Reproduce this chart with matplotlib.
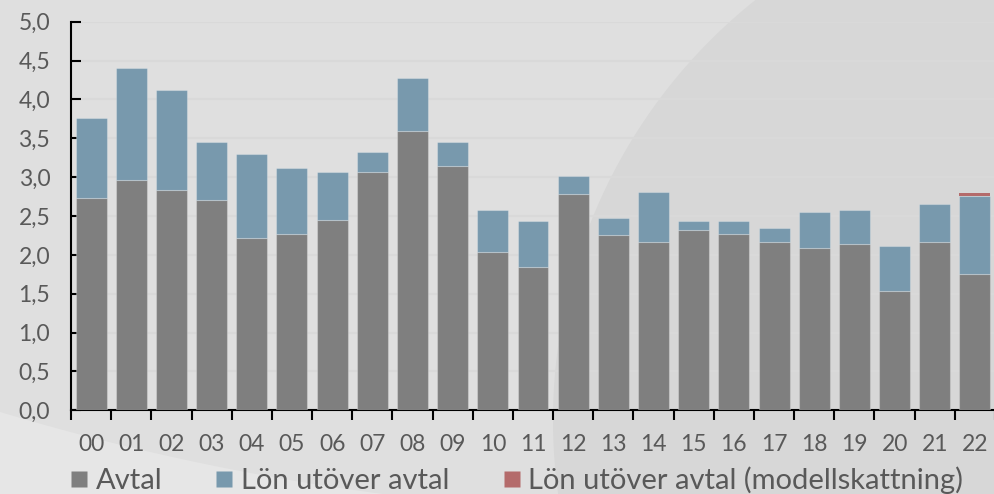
import numpy as np
import matplotlib
matplotlib.use("Agg")
import matplotlib.pyplot as plt
from matplotlib.patches import Polygon
from matplotlib.lines import Line2D
from matplotlib.ticker import FuncFormatter, FixedLocator

plt.rcParams['font.family'] = ['Lato', 'DejaVu Sans']

years = ["00", "01", "02", "03", "04", "05", "06", "07", "08", "09", "10", "11",
         "12", "13", "14", "15", "16", "17", "18", "19", "20", "21", "22"]
avtal = [2.73, 2.96, 2.83, 2.71, 2.22, 2.27, 2.45, 3.06, 3.60, 3.14, 2.04, 1.84,
         2.78, 2.25, 2.17, 2.32, 2.27, 2.17, 2.09, 2.14, 1.53, 2.17, 1.76]
utover = [1.03, 1.44, 1.29, 0.74, 1.08, 0.85, 0.61, 0.26, 0.67, 0.31, 0.54, 0.59,
          0.24, 0.23, 0.64, 0.11, 0.16, 0.18, 0.46, 0.44, 0.59, 0.49, 1.00]
modell = [0, 0, 0, 0, 0, 0, 0, 0, 0, 0, 0, 0,
          0, 0, 0, 0, 0, 0, 0, 0, 0, 0, 0.03]
legend_labels = ["Avtal", "Lön utöver avtal", "Lön utöver avtal (modellskattning)"]

C_AVTAL = '#7f7f7f'
C_UTOVER = '#7899ad'
C_MODELL = '#b46b6b'
TXT = '#595959'

W, H = 995, 494
fig = plt.figure(figsize=(W / 100, H / 100), dpi=100)
fig.patch.set_facecolor('#dfdfdf')

def px(pts):
    return [(x / W, 1 - y / H) for x, y in pts]

# darker region (right)
cx, cy, r = 1090.0, 420.0, 537.0
ys = np.linspace(0, H, 120)
arc = [(cx - np.sqrt(r**2 - (y - cy)**2), y) for y in ys]
dark = arc + [(W + 2, H), (W + 2, 0)]
fig.patches.append(Polygon(px(dark), closed=True, transform=fig.transFigure,
                           facecolor='#d7d7d7', edgecolor='none', zorder=-10))
# lighter region (bottom-left)
cx2, cy2, r2 = 692.0, -1883.0, 2397.0
xs = np.linspace(0, 390, 100)
arc2 = [(x, cy2 + np.sqrt(r2**2 - (x - cx2)**2)) for x in xs]
light = [(-2, arc2[0][1])] + arc2 + [(390, H + 2), (-2, H + 2)]
fig.patches.append(Polygon(px(light), closed=True, transform=fig.transFigure,
                           facecolor='#e6e6e6', edgecolor='none', zorder=-10))

ax = fig.add_axes([71 / W, 1 - 410.3 / H, 1 - 71 / W, (410.3 - 21.7) / H])
ax.set_facecolor('none')

x = np.arange(len(years))
bw = 0.77
edge = (1, 1, 1, 0.25)
ax.bar(x, avtal, bw, color=C_AVTAL, edgecolor=edge, linewidth=0.8, zorder=3)
ax.bar(x, utover, bw, bottom=avtal, color=C_UTOVER, edgecolor=edge, linewidth=0.8, zorder=3)
bottom2 = np.array(avtal) + np.array(utover)
ax.bar(x, modell, bw, bottom=bottom2, color=C_MODELL, edgecolor='none', zorder=3)

ax.set_xlim(-0.5, len(years) - 0.5)
ax.set_ylim(0, 5.0)
ax.set_yticks(np.arange(0, 5.01, 0.5))
ax.yaxis.set_major_formatter(FuncFormatter(lambda v, p: f"{v:.1f}".replace('.', ',')))
ax.yaxis.grid(True, color='#d9d9d9', linewidth=1.5, zorder=0)
ax.set_axisbelow(True)

ax.set_xticks(x)
ax.set_xticklabels(years)
ax.xaxis.set_minor_locator(FixedLocator(np.arange(-0.5, len(years), 1.0)))
ax.tick_params(axis='x', which='major', length=0, pad=17, labelsize=16.5, labelcolor=TXT)
ax.tick_params(axis='x', which='minor', length=7, width=1.5, direction='out', color='black')
ax.tick_params(axis='y', which='major', length=7, width=1.5, direction='in', pad=15,
               labelsize=16.5, labelcolor=TXT, color='black')

for s in ['top', 'right']:
    ax.spines[s].set_visible(False)
for s in ['left', 'bottom']:
    ax.spines[s].set_color('black')
    ax.spines[s].set_linewidth(1.5)

handles = [Line2D([], [], marker='s', linestyle='none', markersize=11,
                  markerfacecolor=c, markeredgecolor='none')
           for c in (C_AVTAL, C_UTOVER, C_MODELL)]
leg = fig.legend(handles, legend_labels, loc='center left',
                 bbox_to_anchor=(71 / W, 1 - 480 / H), ncol=3, frameon=False,
                 fontsize=21, handlelength=0.55, handletextpad=0.3,
                 columnspacing=1.85, borderpad=0, borderaxespad=0)
for t in leg.get_texts():
    t.set_color(TXT)

fig.savefig('out.png', dpi=100, facecolor=fig.get_facecolor())
